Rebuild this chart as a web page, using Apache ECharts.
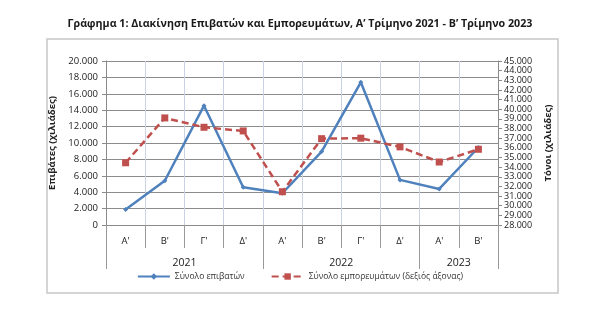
<!DOCTYPE html>
<html><head><meta charset="utf-8">
<script src="https://cdn.jsdelivr.net/npm/echarts@6/dist/echarts.min.js"></script>
<style>html,body{margin:0;padding:0;background:#fff}#c{width:600px;height:326px}</style>
</head><body><div id="c"></div>
<script>
const quarters = ["Α'", "Β'", "Γ'", "Δ'", "Α'", "Β'", "Γ'", "Δ'", "Α'", "Β'"];
const yearSlots = ["", "", "", "", "2021", "", "", "", "", "", "", "", "2022", "", "", "", "", "", "2023", "", ""];
const passengers = [1900, 5400, 14550, 4600, 3870, 8950, 17400, 5500, 4400, 9450];
const cargo = [34450, 39100, 38130, 37750, 31450, 36950, 37000, 36100, 34530, 35850];
const leftTicksMin = 0, leftTicksMax = 20000, leftStep = 2000;
const rightTicksMin = 28000, rightTicksMax = 45000, rightStep = 1000;

const fmt = v => v === 0 ? '0' : String(v).replace(/\B(?=(\d{3})+(?!\d))/g, '.');
const FONT = 'Open Sans';
const chart = echarts.init(document.getElementById('c'), null, {renderer: 'canvas'});
chart.setOption({
  animation: false,
  textStyle: {fontFamily: FONT},
  title: {
    text: 'Γράφημα 1: Διακίνηση Επιβατών και Εμπορευμάτων, Α’ Τρίμηνο 2021 - Β’ Τρίμηνο 2023',
    left: 'center', top: 13,
    textStyle: {fontFamily: FONT, fontWeight: 'bold', fontSize: 10.7, color: '#1a1a1a'}
  },
  graphic: [{
    type: 'rect', shape: {x: 47, y: 39, width: 511, height: 254},
    style: {fill: 'none', stroke: '#c8c8c8', lineWidth: 1.5}, z: -1
  }],
  legend: {
    bottom: 40, left: 'center', itemGap: 26, itemWidth: 32, itemHeight: 8,
    textStyle: {fontFamily: FONT, fontSize: 8.5, color: '#333'},
    data: ['Σύνολο επιβατών', 'Σύνολο εμπορευμάτων (δεξιός άξονας)']
  },
  grid: {left: 106, right: 102, top: 61, bottom: 101},
  xAxis: [{
    type: 'category', data: quarters, boundaryGap: true, position: 'bottom',
    axisLine: {lineStyle: {color: '#8a8a8a'}},
    axisTick: {show: true, interval: 0, length: 23, lineStyle: {color: '#9a9a9a'}},
    axisLabel: {interval: 0, fontSize: 9.5, color: '#222', margin: 11, fontFamily: FONT},
    splitLine: {show: true, interval: 0, lineStyle: {color: '#c9d3e3'}}
  }, {
    type: 'category', data: yearSlots, boundaryGap: false, position: 'bottom',
    axisLine: {show: false},
    axisTick: {show: true, length: 44, interval: function (i) { return i === 0 || i === 8 || i === 16 || i === 20; }, lineStyle: {color: '#9a9a9a'}},
    axisLabel: {interval: 0, fontSize: 10.5, color: '#222', margin: 33, fontFamily: FONT},
    splitLine: {show: false}
  }],
  yAxis: [{
    type: 'value', min: leftTicksMin, max: leftTicksMax, interval: leftStep, position: 'left',
    name: 'Επιβάτες (χιλιάδες)', nameLocation: 'middle', nameGap: 44, nameRotate: 90,
    nameTextStyle: {fontFamily: FONT, fontWeight: 'bold', fontSize: 9.5, color: '#222'},
    axisLine: {show: true, lineStyle: {color: '#8a8a8a'}},
    axisTick: {show: true, length: 4, lineStyle: {color: '#8a8a8a'}},
    axisLabel: {formatter: fmt, fontSize: 9.5, color: '#222', margin: 8, fontFamily: FONT, showMinLabel: true, showMaxLabel: true},
    splitLine: {show: true, lineStyle: {color: '#8c8c8c'}}
  }, {
    type: 'value', min: rightTicksMin, max: rightTicksMax, interval: rightStep, position: 'right',
    name: 'Τόνοι (χιλιάδες)', nameLocation: 'middle', nameGap: 44, nameRotate: 90,
    nameTextStyle: {fontFamily: FONT, fontWeight: 'bold', fontSize: 9.5, color: '#222'},
    axisLine: {show: true, lineStyle: {color: '#8a8a8a'}},
    axisTick: {show: true, length: 4, lineStyle: {color: '#8a8a8a'}},
    axisLabel: {formatter: fmt, fontSize: 9, color: '#222', margin: 6, fontFamily: FONT, lineHeight: 8, showMinLabel: true, showMaxLabel: true, hideOverlap: false},
    splitLine: {show: false}
  }],
  series: [{
    name: 'Σύνολο επιβατών', type: 'line', data: passengers, xAxisIndex: 0, yAxisIndex: 0,
    symbol: 'diamond', symbolSize: 5, showSymbol: true,
    lineStyle: {color: '#4f81bd', width: 2.5},
    itemStyle: {color: '#4f81bd'}
  }, {
    name: 'Σύνολο εμπορευμάτων (δεξιός άξονας)', type: 'line', data: cargo, xAxisIndex: 0, yAxisIndex: 1,
    symbol: 'rect', symbolSize: 7,
    lineStyle: {color: '#c0504d', width: 2.5, type: [7, 4]},
    itemStyle: {color: '#c0504d'}
  }]
});
</script></body></html>
